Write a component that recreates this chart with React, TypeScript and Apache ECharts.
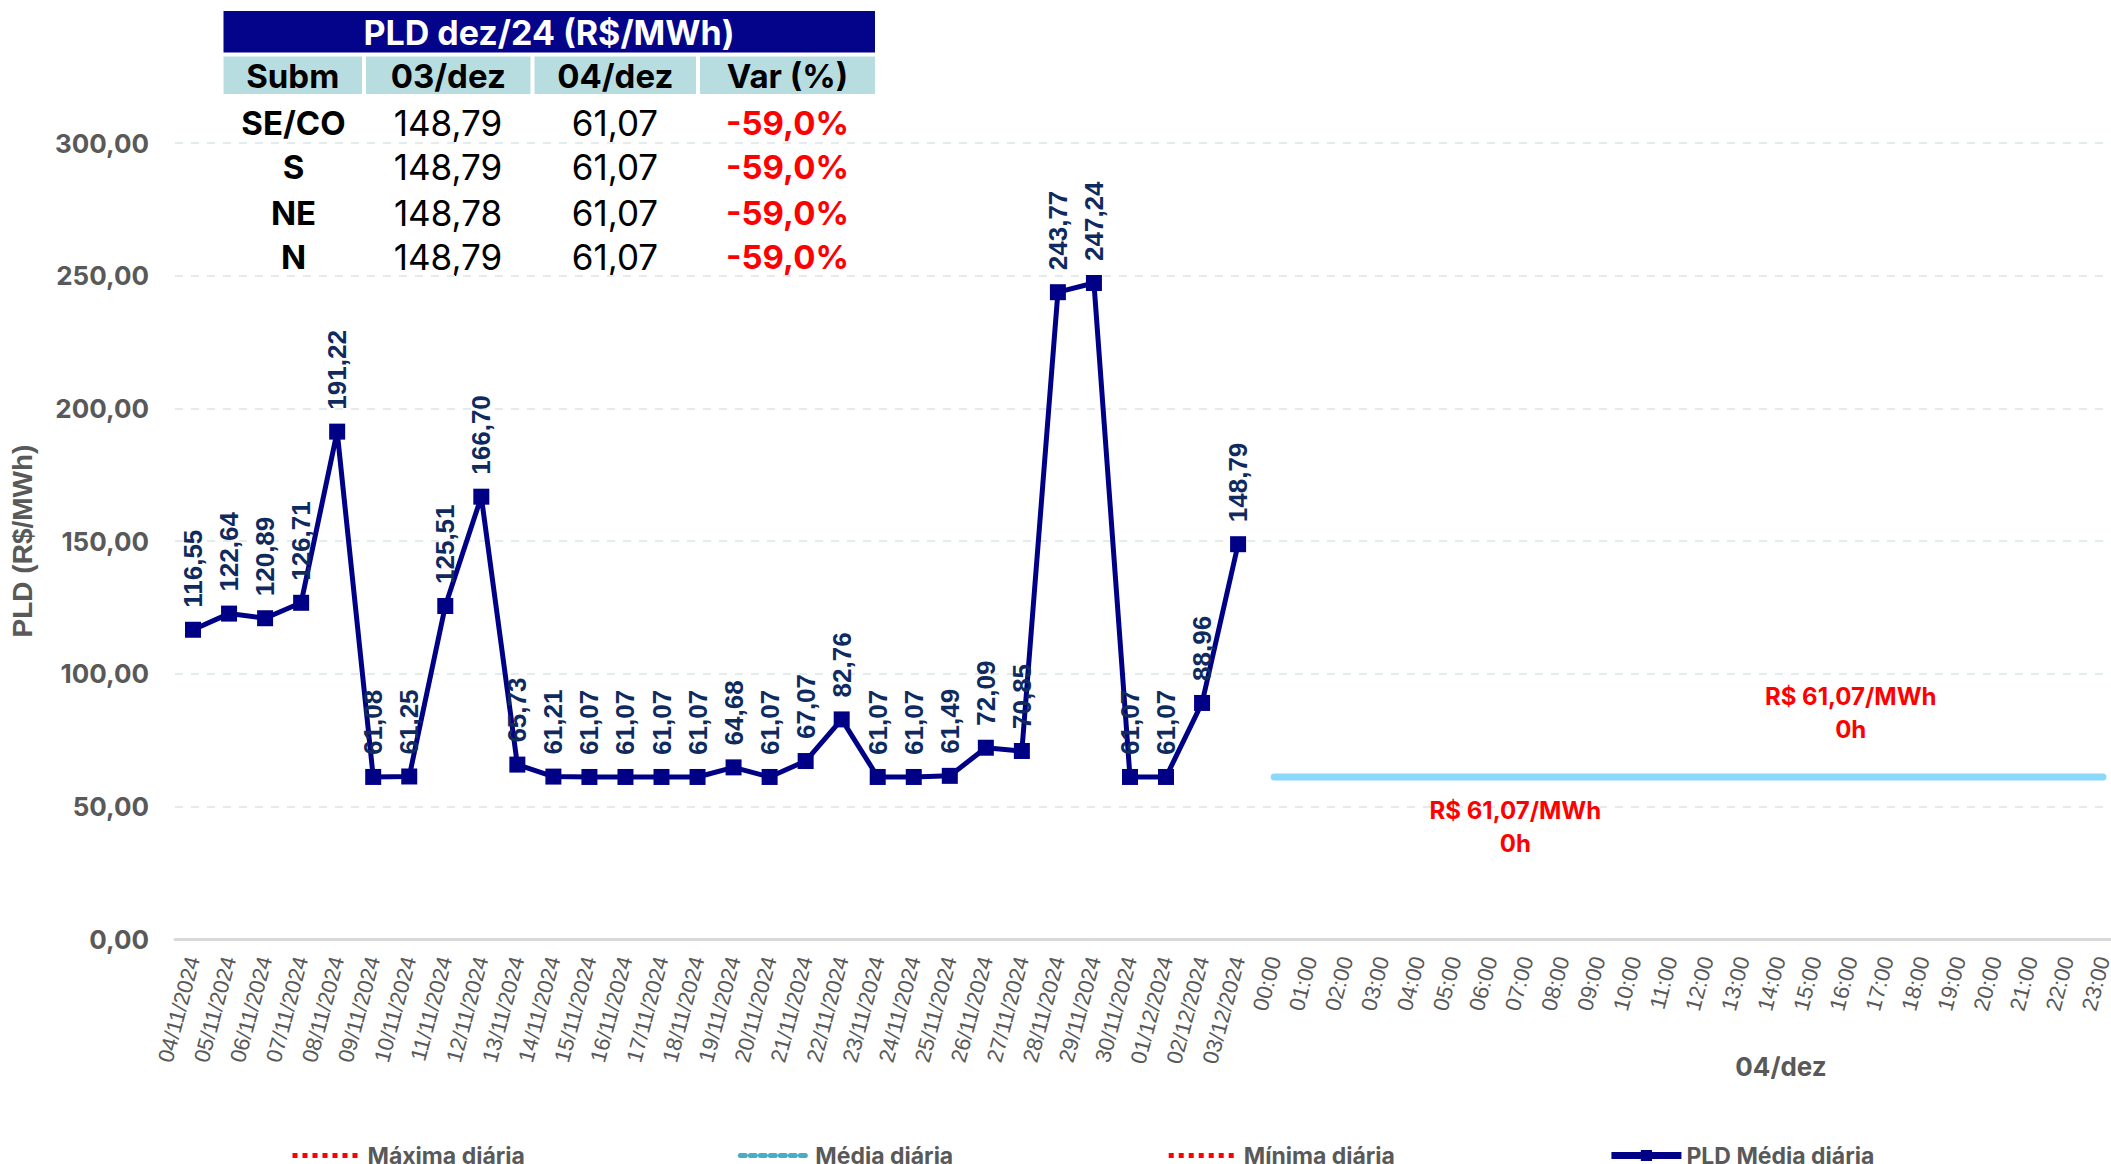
import React, { useEffect, useRef } from 'react';
import * as echarts from 'echarts';

const dates = [
  '04/11/2024', '05/11/2024', '06/11/2024', '07/11/2024', '08/11/2024', '09/11/2024',
  '10/11/2024', '11/11/2024', '12/11/2024', '13/11/2024', '14/11/2024', '15/11/2024',
  '16/11/2024', '17/11/2024', '18/11/2024', '19/11/2024', '20/11/2024', '21/11/2024',
  '22/11/2024', '23/11/2024', '24/11/2024', '25/11/2024', '26/11/2024', '27/11/2024',
  '28/11/2024', '29/11/2024', '30/11/2024', '01/12/2024', '02/12/2024', '03/12/2024',
];
const hours = [
  '00:00', '01:00', '02:00', '03:00', '04:00', '05:00', '06:00', '07:00',
  '08:00', '09:00', '10:00', '11:00', '12:00', '13:00', '14:00', '15:00',
  '16:00', '17:00', '18:00', '19:00', '20:00', '21:00', '22:00', '23:00',
];
const pldDaily = [
  116.55, 122.64, 120.89, 126.71, 191.22, 61.08, 61.25, 125.51, 166.7, 65.73,
  61.21, 61.07, 61.07, 61.07, 61.07, 64.68, 61.07, 67.07, 82.76, 61.07,
  61.07, 61.49, 72.09, 70.85, 243.77, 247.24, 61.07, 61.07, 88.96, 148.79,
];
const hourlyMax = [
  61.07, 61.07, 61.07, 61.07, 61.07, 61.07, 61.07, 61.07, 61.07, 61.07, 61.07, 61.07,
  61.07, 61.07, 61.07, 61.07, 61.07, 61.07, 61.07, 61.07, 61.07, 61.07, 61.07, 61.07,
];
const hourlyAvg = [
  61.07, 61.07, 61.07, 61.07, 61.07, 61.07, 61.07, 61.07, 61.07, 61.07, 61.07, 61.07,
  61.07, 61.07, 61.07, 61.07, 61.07, 61.07, 61.07, 61.07, 61.07, 61.07, 61.07, 61.07,
];
const hourlyMin = [
  61.07, 61.07, 61.07, 61.07, 61.07, 61.07, 61.07, 61.07, 61.07, 61.07, 61.07, 61.07,
  61.07, 61.07, 61.07, 61.07, 61.07, 61.07, 61.07, 61.07, 61.07, 61.07, 61.07, 61.07,
];
const yMin = 0;
const yMax = 300;
const yInterval = 50;

const maxAnnotHour = '16:00';
const maxAnnotText = 'R$ 61,07/MWh\n0h';
const minAnnotHour = '07:00';
const minAnnotText = 'R$ 61,07/MWh\n0h';
const hourAxisName = '04/dez';

const tableTitle = 'PLD dez/24 (R$/MWh)';
const tableHeaders = ['Subm', '03/dez', '04/dez', 'Var (%)'];
const submercados = ['SE/CO', 'S', 'NE', 'N'];
const pld03 = ['148,79', '148,79', '148,78', '148,79'];
const pld04 = ['61,07', '61,07', '61,07', '61,07'];
const variacao = ['-59,0%', '-59,0%', '-59,0%', '-59,0%'];

const fmt = (v: number) => v.toFixed(2).replace('.', ',');

const NAVY = '#000087';
const GREY = '#595959';
const RED = '#ff0000';

function buildTable() {
  const colX = [[223.5, 362], [366, 530.5], [534.5, 696], [700, 875]];
  const children: any[] = [];
  children.push({ type: 'rect', shape: { x: 223, y: 10, width: 653, height: 282 }, style: { fill: '#ffffff' } });
  children.push({ type: 'rect', shape: { x: 223.5, y: 11, width: 651.5, height: 41.5 }, style: { fill: '#04048a' } });
  children.push({
    type: 'text', x: 549, y: 32,
    style: { text: tableTitle, fill: '#ffffff', font: 'bold 34px Inter', align: 'center', verticalAlign: 'middle' },
  });
  tableHeaders.forEach((h, i) => {
    const [x0, x1] = colX[i];
    children.push({ type: 'rect', shape: { x: x0, y: 56.5, width: x1 - x0, height: 37.5 }, style: { fill: '#b7dde1' } });
    children.push({
      type: 'text', x: (x0 + x1) / 2, y: 76,
      style: { text: h, fill: '#000000', font: 'bold 33px Inter', align: 'center', verticalAlign: 'middle' },
    });
  });
  const rowY = [122.5, 167, 212.5, 257];
  const cols = [submercados, pld03, pld04, variacao];
  const colCenters = [293.5, 448, 615, 787.5];
  cols.forEach((col, ci) => {
    col.forEach((t, ri) => {
      const bold = ci === 0 || ci === 3;
      children.push({
        type: 'text', x: colCenters[ci], y: rowY[ri],
        style: {
          text: t, fill: ci === 3 ? RED : '#000000',
          font: `${bold ? 'bold 33px' : '35px'} Inter`, align: 'center', verticalAlign: 'middle',
        },
      });
    });
  });
  return { type: 'group', children };
}

export default function App() {
  const ref = useRef<HTMLDivElement>(null);
  useEffect(() => {
    if (!ref.current) return;
    const chart = echarts.init(ref.current, null, { renderer: 'svg' });
    const categories = [...dates, ...hours];
    const option: any = {
      animation: false,
      backgroundColor: '#ffffff',
      grid: { left: 175, right: -10, top: 143, bottom: 225, outerBoundsMode: 'none' },
      xAxis: {
        type: 'category',
        data: categories,
        boundaryGap: true,
        axisLine: { show: true, lineStyle: { color: '#d9d9d9', width: 3 } },
        axisTick: { show: false },
        axisLabel: {
          interval: 0, rotate: 75, margin: 18,
          color: GREY, fontFamily: 'Liberation Sans', fontSize: 22,
        },
      },
      yAxis: {
        type: 'value',
        min: yMin, max: yMax, interval: yInterval,
        name: 'PLD (R$/MWh)',
        nameLocation: 'middle',
        nameGap: 139,
        nameTextStyle: { color: GREY, fontFamily: 'Liberation Sans', fontWeight: 'bold', fontSize: 28 },
        axisLine: { show: false },
        axisTick: { show: false },
        axisLabel: {
          formatter: (v: number) => fmt(v), margin: 26,
          color: GREY, fontFamily: 'Inter', fontWeight: 'bold', fontSize: 26,
        },
        splitLine: { lineStyle: { color: '#e2ecec', width: 2, type: [8, 8] } },
      },
      legend: {
        left: 285, top: 1139,
        itemWidth: 70, itemHeight: 14, itemGap: 213,
        textStyle: { color: GREY, fontFamily: 'Inter', fontWeight: 'bold', fontSize: 23 },
        data: [
          { name: 'Máxima diária', lineStyle: { color: RED, type: 'dotted', width: 5 }, itemStyle: { opacity: 0 } },
          { name: 'Média diária', lineStyle: { color: '#4bacc6', type: 'dotted', width: 5 }, itemStyle: { opacity: 0 } },
          { name: 'Mínima diária', lineStyle: { color: RED, type: 'dotted', width: 5 }, itemStyle: { opacity: 0 } },
          { name: 'PLD Média diária', lineStyle: { color: NAVY, width: 7 } },
        ],
      },
      graphic: [
        buildTable(),
        {
          type: 'text', x: 1781, y: 1066,
          style: { text: hourAxisName, fill: GREY, font: 'bold 26px Inter', align: 'center', verticalAlign: 'middle' },
        },
      ],
      series: [
        {
          name: 'Máxima diária', type: 'line', symbol: 'none',
          data: hours.map((h, i) => [h, hourlyMax[i]]),
          lineStyle: { color: RED, type: 'dotted', width: 4 },
          itemStyle: { color: RED },
          z: 2,
          markPoint: {
            symbol: 'circle', symbolSize: 0,
            data: [{ coord: [maxAnnotHour, hourlyMax[hours.indexOf(maxAnnotHour)]] }],
            label: {
              show: true, formatter: maxAnnotText, offset: [0, -64],
              color: RED, fontFamily: 'Inter', fontWeight: 'bold', fontSize: 24, lineHeight: 33,
            },
          },
        },
        {
          name: 'Mínima diária', type: 'line', symbol: 'none',
          data: hours.map((h, i) => [h, hourlyMin[i]]),
          lineStyle: { color: RED, type: 'dotted', width: 4 },
          itemStyle: { color: RED },
          z: 2,
          markPoint: {
            symbol: 'circle', symbolSize: 0,
            data: [{ coord: [minAnnotHour, hourlyMin[hours.indexOf(minAnnotHour)]] }],
            label: {
              show: true, formatter: minAnnotText, offset: [-11, 50],
              color: RED, fontFamily: 'Inter', fontWeight: 'bold', fontSize: 24, lineHeight: 33,
            },
          },
        },
        {
          name: 'Média diária', type: 'line', symbol: 'none',
          data: hours.map((h, i) => [h, hourlyAvg[i]]),
          lineStyle: { color: '#8ad8fa', width: 7, cap: 'round' },
          itemStyle: { color: '#8ad8fa' },
          z: 5,
        },
        {
          name: 'PLD Média diária', type: 'line',
          symbol: 'rect', symbolSize: 16,
          data: dates.map((d, i) => [d, pldDaily[i]]),
          lineStyle: { color: NAVY, width: 5 },
          itemStyle: { color: NAVY },
          z: 4,
          label: {
            show: true, position: 'top', rotate: 90, align: 'left', verticalAlign: 'middle', distance: 14,
            formatter: (p: any) => fmt(p.value[1]),
            color: '#0f2a5e', fontFamily: 'Liberation Sans', fontWeight: 'bold', fontSize: 26,
          },
        },
      ],
    };
    chart.setOption(option);
    return () => chart.dispose();
  }, []);
  return (
    <div
      ref={ref}
      style={{ position: 'fixed', left: 0, top: 0, width: 2111, height: 1164, background: '#fff' }}
    />
  );
}
